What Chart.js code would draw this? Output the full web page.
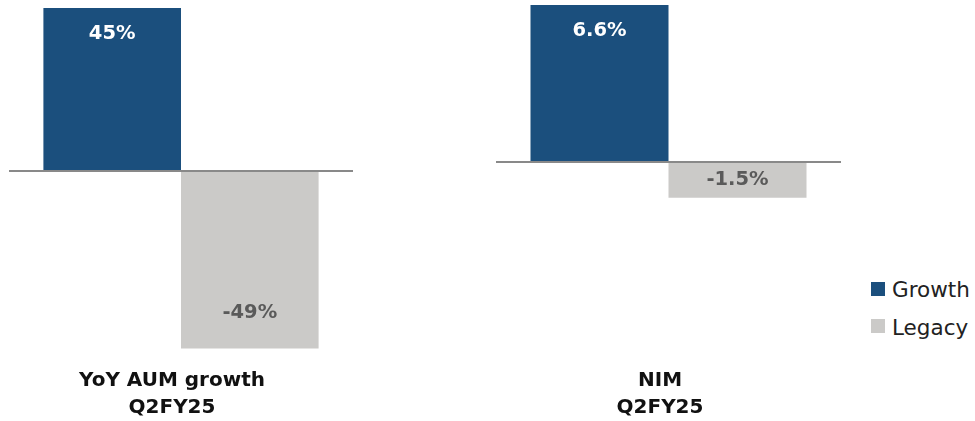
<!DOCTYPE html>
<html>
<head>
<meta charset="utf-8">
<script src="https://cdn.jsdelivr.net/npm/chart.js@4.4.1/dist/chart.umd.min.js"></script>
<style>
  html, body { margin: 0; padding: 0; background: #ffffff; }
  #wrap { position: relative; width: 975px; height: 421px; overflow: hidden; }
  #c1 { position: absolute; left: 1px; top: 0; }
  #c2 { position: absolute; left: 480px; top: 0; }
  .lg { position: absolute; left: 871px; font-family: "DejaVu Sans", sans-serif; font-size: 21.5px; line-height: 21px; color: #222222; white-space: nowrap; }
  .lg span.box { position: absolute; left: 0; width: 14px; height: 14px; }
  .lg span.txt { position: absolute; left: 21px; top: 0; }
</style>
</head>
<body>
<div id="wrap">
  <canvas id="c1" width="365" height="425"></canvas>
  <canvas id="c2" width="380" height="425"></canvas>
  <div id="legend"></div>
</div>
<script>
// ---- data ----
const seriesNames = ["Growth", "Legacy"];
const seriesColors = ["#1B4F7D", "#CBCAC8"];
const labelColors = ["#FFFFFF", "#5A5A5A"];

const aumCategory = [["YoY AUM growth", "Q2FY25"]];
const aumGrowth = [45];
const aumLegacy = [-49];
const aumDecimals = 0;

const nimCategory = [["NIM", "Q2FY25"]];
const nimGrowth = [6.6];
const nimLegacy = [-1.5];
const nimDecimals = 1;

const FONT = "'DejaVu Sans', sans-serif";

// value labels drawn inside bars
const valueLabels = {
  id: 'valueLabels',
  afterDatasetsDraw(chart, args, opts) {
    const ctx = chart.ctx;
    ctx.save();
    ctx.font = "bold 19.5px " + FONT;
    ctx.textAlign = 'center';
    ctx.textBaseline = 'middle';
    chart.data.datasets.forEach((ds, di) => {
      const meta = chart.getDatasetMeta(di);
      meta.data.forEach((bar, i) => {
        const v = ds.data[i];
        const mid = (bar.y + bar.base) / 2;
        let y;
        if (v >= 0) y = Math.min(bar.y + 26, mid);
        else y = Math.max(bar.y - 36, mid);
        ctx.fillStyle = labelColors[di];
        ctx.fillText(v.toFixed(opts.decimals) + '%', bar.x, y);
      });
    });
    ctx.restore();
  }
};

function makeChart(id, cats, g, l, dec, yMin, yMax, padL, padR, lblOff) {
  return new Chart(document.getElementById(id), {
    type: 'bar',
    data: {
      labels: cats,
      datasets: [
        { label: seriesNames[0], data: g, backgroundColor: seriesColors[0], categoryPercentage: 0.8, barPercentage: 1.0 },
        { label: seriesNames[1], data: l, backgroundColor: seriesColors[1], categoryPercentage: 0.8, barPercentage: 1.0 }
      ]
    },
    options: {
      responsive: false,
      animation: false,
      layout: { padding: { left: padL, right: padR, top: 0, bottom: 0 } },
      plugins: {
        legend: { display: false },
        tooltip: { enabled: false },
        valueLabels: { decimals: dec }
      },
      scales: {
        x: {
          grid: { display: false, drawTicks: false },
          border: { display: false },
          ticks: {
            padding: 4,
            labelOffset: lblOff,
            color: '#111111',
            font: { family: FONT, size: 20, weight: 'bold', lineHeight: 1.33 }
          }
        },
        y: {
          min: yMin, max: yMax,
          display: true,
          border: { display: false },
          ticks: { display: false },
          grid: {
            drawTicks: false,
            tickLength: 0,
            lineWidth: 2,
            color: (c) => (c.tick && c.tick.value === 0) ? '#898989' : 'rgba(0,0,0,0)'
          }
        }
      }
    },
    plugins: [valueLabels]
  });
}

makeChart('c1', aumCategory, aumGrowth, aumLegacy, aumDecimals, -53.2, 47.2, 8, 13, -9);
makeChart('c2', nimCategory, nimGrowth, nimLegacy, nimDecimals, -8.48, 6.81, 16, 19, -8.5);

// legend
const lg = document.getElementById('legend');
const tops = [278.5, 316.5];
const boxTops = [3.5, 2.5];
seriesNames.forEach((n, i) => {
  const d = document.createElement('div');
  d.className = 'lg';
  d.style.top = tops[i] + 'px';
  d.innerHTML = '<span class="box" style="top:' + boxTops[i] + 'px;background:' + seriesColors[i] + '"></span><span class="txt">' + n + '</span>';
  lg.appendChild(d);
});
</script>
</body>
</html>
